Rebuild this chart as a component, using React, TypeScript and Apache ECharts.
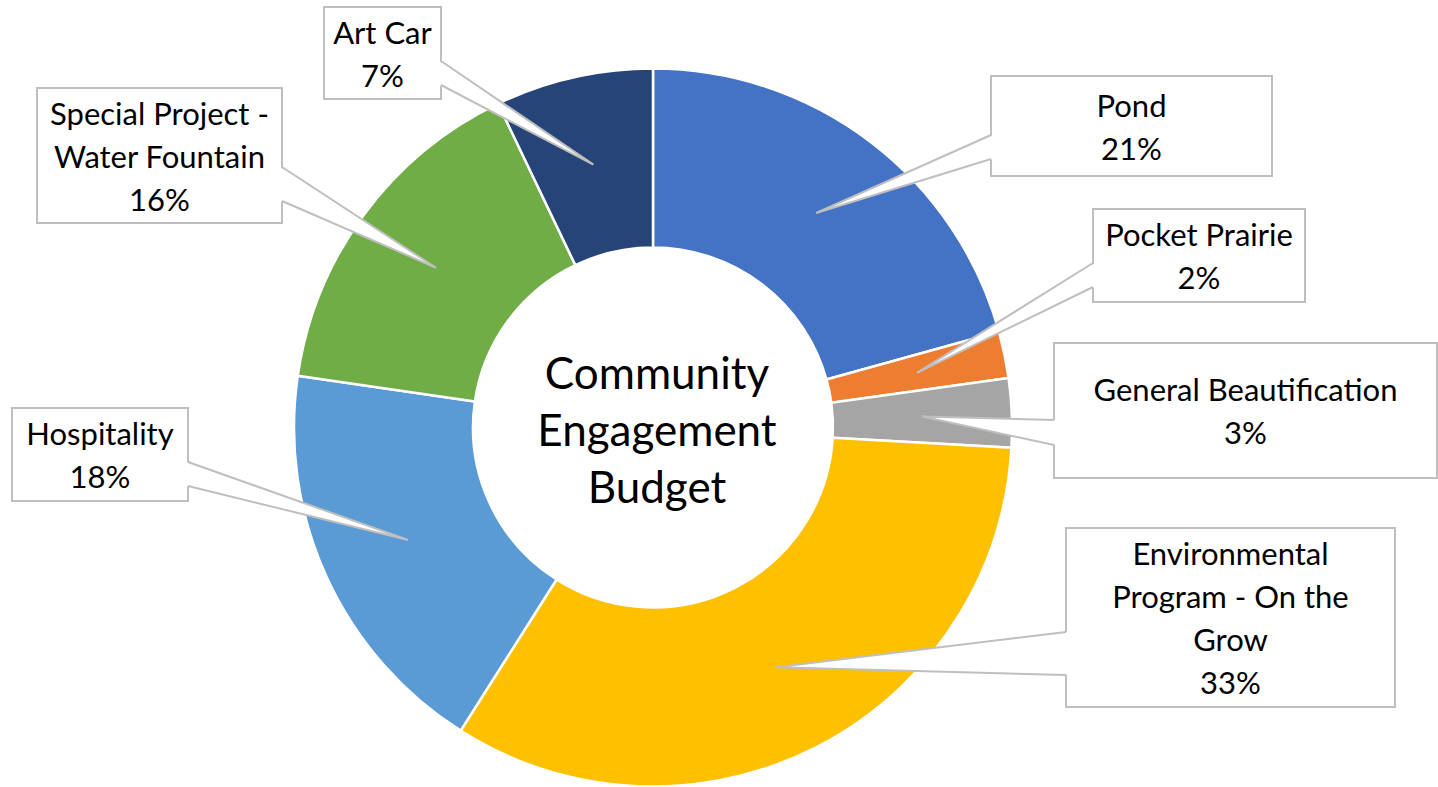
import React, { useEffect, useRef } from "react";
import * as echarts from "echarts";

// ---- data ----
const categories = [
  "Pond",
  "Pocket Prairie",
  "General Beautification",
  "Environmental Program - On the Grow",
  "Hospitality",
  "Special Project - Water Fountain",
  "Art Car",
];
const values = [20.7, 2.1, 3.1, 33.1, 18.3, 15.6, 7.1];
const labelNames = [
  "Pond",
  "Pocket Prairie",
  "General Beautification",
  "Environmental\nProgram - On the\nGrow",
  "Hospitality",
  "Special Project -\nWater Fountain",
  "Art Car",
];
const centerTitle = "Community\nEngagement\nBudget";

// ---- styles / layout ----
const colors = ["#4472C4", "#ED7D31", "#A5A5A5", "#FFC000", "#5B9BD5", "#70AD47", "#264478"];
const CX = 653;
const CY = 427.5;
const R_IN = 180;
const R_OUT = 359;
// callout boxes: [x, y, w, h], side of wedge base, base y range
const callouts = [
  { box: [991, 76, 281, 100], side: "left", b1: 135, b2: 159 },
  { box: [1093, 209, 212, 93], side: "left", b1: 263, b2: 287 },
  { box: [1054, 343, 383, 135], side: "left", b1: 420, b2: 445 },
  { box: [1066, 528, 329, 179], side: "left", b1: 632, b2: 675 },
  { box: [12, 408, 176, 93], side: "right", b1: 462, b2: 486 },
  { box: [37, 88, 245, 135], side: "right", b1: 167, b2: 201 },
  { box: [324, 7, 117, 92], side: "right", b1: 61, b2: 85 },
];
const FONT = "Lato, 'Open Sans', sans-serif";
const BORDER = "#BFBFBF";

export default function App() {
  const ref = useRef<HTMLDivElement>(null);
  useEffect(() => {
    if (!ref.current) return;
    const chart = echarts.init(ref.current, undefined, { renderer: "svg" });
    const total = values.reduce((a, b) => a + b, 0);
    const tipR = (R_IN + R_OUT) / 2;
    const graphics: any[] = [];
    let cum = 0;
    values.forEach((v, i) => {
      const mid = ((cum + v / 2) / total) * Math.PI * 2;
      cum += v;
      const tx = CX + tipR * Math.sin(mid);
      const ty = CY - tipR * Math.cos(mid);
      const c = callouts[i];
      const [bx, by, bw, bh] = c.box;
      const edgeX = c.side === "left" ? bx : bx + bw;
      const inset = c.side === "left" ? 2 : -2;
      graphics.push({
        type: "rect",
        z: 10,
        silent: true,
        shape: { x: bx, y: by, width: bw, height: bh },
        style: { fill: "#fff", stroke: BORDER, lineWidth: 2 },
      });
      graphics.push({
        type: "polygon",
        z: 11,
        silent: true,
        shape: {
          points: [
            [edgeX + inset, c.b1],
            [tx, ty],
            [edgeX + inset, c.b2],
          ],
        },
        style: { fill: "#fff", stroke: null },
      });
      graphics.push({
        type: "polyline",
        z: 12,
        silent: true,
        shape: { points: [[edgeX, c.b1], [tx, ty], [edgeX, c.b2]] },
        style: { stroke: BORDER, lineWidth: 2, fill: null },
      });
      const pct = Math.round((v / total) * 100);
      graphics.push({
        type: "text",
        z: 13,
        silent: true,
        style: {
          x: bx + bw / 2,
          y: by + bh / 2,
          text: labelNames[i] + "\n" + pct + "%",
          align: "center",
          verticalAlign: "middle",
          font: `31px ${FONT}`,
          lineHeight: 43,
          fill: "#000",
        },
      });
    });
    graphics.push({
      type: "text",
      z: 13,
      silent: true,
      style: {
        x: CX + 4,
        y: CY + 1,
        text: centerTitle,
        align: "center",
        verticalAlign: "middle",
        font: `44px ${FONT}`,
        lineHeight: 57,
        fill: "#000",
      },
    });

    chart.setOption({
      animation: false,
      backgroundColor: "#fff",
      series: [
        {
          type: "pie",
          center: [CX, CY],
          radius: [R_IN, R_OUT],
          startAngle: 90,
          clockwise: true,
          silent: true,
          label: { show: false },
          labelLine: { show: false },
          itemStyle: { borderColor: "#fff", borderWidth: 2.5 },
          data: categories.map((name, i) => ({
            name,
            value: values[i],
            itemStyle: { color: colors[i] },
          })),
        },
      ],
      graphic: graphics,
    });
    return () => chart.dispose();
  }, []);
  return (
    <div
      ref={ref}
      style={{ position: "fixed", left: 0, top: 0, width: 1438, height: 787 }}
    />
  );
}
